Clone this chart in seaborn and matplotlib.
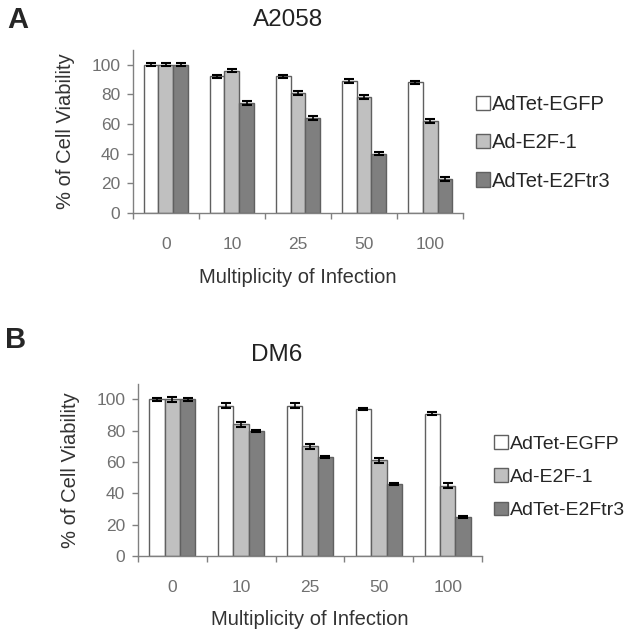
import matplotlib
matplotlib.use("Agg")
import matplotlib.pyplot as plt
import seaborn as sns
import pandas as pd
import numpy as np

moi = ["0", "10", "25", "50", "100"]
series = ["AdTet-EGFP", "Ad-E2F-1", "AdTet-E2Ftr3"]

a_egfp = [100, 92, 92, 89, 88]
a_e2f1 = [100, 96, 81, 78, 62]
a_e2ftr3 = [100, 74, 64, 40, 23]
a_err_egfp = [1.2, 1.2, 1.2, 1.2, 1.2]
a_err_e2f1 = [1.2, 1.2, 1.2, 1.2, 1.2]
a_err_e2ftr3 = [1.2, 1.2, 1.2, 1.2, 1.2]

b_egfp = [100, 96, 96, 94, 91]
b_e2f1 = [100, 84, 70, 61, 45]
b_e2ftr3 = [100, 80, 63, 46, 25]
b_err_egfp = [1.2, 1.5, 1.5, 0.8, 0.8]
b_err_e2f1 = [1.8, 1.5, 1.5, 1.5, 1.5]
b_err_e2ftr3 = [1.0, 0.6, 0.6, 0.6, 0.6]

colors = ["#ffffff", "#c0c0c0", "#7f7f7f"]

sns.set_style("white")
plt.rcParams["font.family"] = ["Liberation Sans", "DejaVu Sans"]

fig = plt.figure(figsize=(6.32, 6.38), dpi=100)


def build(vals, errs):
    rows = []
    for s, v, e in zip(series, vals, errs):
        for m, vv, ee in zip(moi, v, e):
            rows.append({"moi": m, "series": s, "val": vv, "err": ee})
    return pd.DataFrame(rows)


def panel(rect, df, title, title_xy, letter, letter_xy, leg_xy, spacing,
          leg_fs, xlabelpad):
    ax = fig.add_axes(rect)
    sns.barplot(data=df, x="moi", y="val", hue="series", order=moi,
                hue_order=series, palette=colors, width=0.67, gap=0,
                errorbar=None, edgecolor="#606060", linewidth=1.0, ax=ax,
                saturation=1)
    for i, s in enumerate(series):
        cont = ax.containers[i]
        sub = df[df.series == s].set_index("moi").loc[moi]
        xs = [p.get_x() + p.get_width() / 2 for p in cont.patches]
        ax.errorbar(xs, sub["val"].values, yerr=sub["err"].values, fmt="none",
                    ecolor="black", elinewidth=1.2, capsize=3.5, capthick=1.5,
                    zorder=5)
    ax.set_ylim(0, 110)
    ax.set_xlim(-0.5, 4.5)
    ax.set_yticks([0, 20, 40, 60, 80, 100])
    for sp in ["top", "right"]:
        ax.spines[sp].set_visible(False)
    for sp in ["left", "bottom"]:
        ax.spines[sp].set_color("#808080")
        ax.spines[sp].set_linewidth(1.0)
    ax.set_xticks(np.arange(-0.5, 5.0, 1.0), minor=True)
    ax.tick_params(axis="x", which="major", length=0, pad=17, labelsize=12.5,
                   labelcolor="#707070")
    ax.tick_params(axis="x", which="minor", length=4, width=1.0,
                   color="#808080", direction="out", bottom=True)
    ax.tick_params(axis="y", length=4, width=1.0, color="#808080",
                   direction="out", left=True, pad=5, labelsize=12.5,
                   labelcolor="#707070")
    ax.set_xlabel("Multiplicity of Infection", fontsize=14.5, color="#333333",
                  labelpad=xlabelpad)
    ax.set_ylabel("% of Cell Viability", fontsize=14.5, color="#333333",
                  labelpad=12)
    fig.text(title_xy[0], title_xy[1], title, fontsize=17.5, color="#222222",
             ha="center", va="center")
    fig.text(letter_xy[0], letter_xy[1], letter, fontsize=21, weight="bold",
             ha="left", va="center")
    leg = ax.legend(loc="center left", bbox_to_anchor=leg_xy,
                    bbox_transform=fig.transFigure, frameon=False,
                    fontsize=leg_fs, handlelength=0.7, handleheight=0.7,
                    handletextpad=0.1, labelspacing=spacing, borderaxespad=0)
    for h in leg.legend_handles:
        h.set_edgecolor("#606060")
        h.set_linewidth(1.0)
    return ax


dfa = build([a_egfp, a_e2f1, a_e2ftr3], [a_err_egfp, a_err_e2f1, a_err_e2ftr3])
dfb = build([b_egfp, b_e2f1, b_e2ftr3], [b_err_egfp, b_err_e2f1, b_err_e2ftr3])

panel([0.210, 0.666, 0.523, 0.256], dfa, "A2058", (0.455, 0.968), "A",
      (0.012, 0.968), (0.740, 0.776), 0.95, 14.5, 12)
panel([0.218, 0.1285, 0.545, 0.27], dfb, "DM6", (0.437, 0.444), "B",
      (0.008, 0.467), (0.770, 0.252), 0.8, 14, 11)

fig.savefig("out.png", dpi=100, facecolor="white")
